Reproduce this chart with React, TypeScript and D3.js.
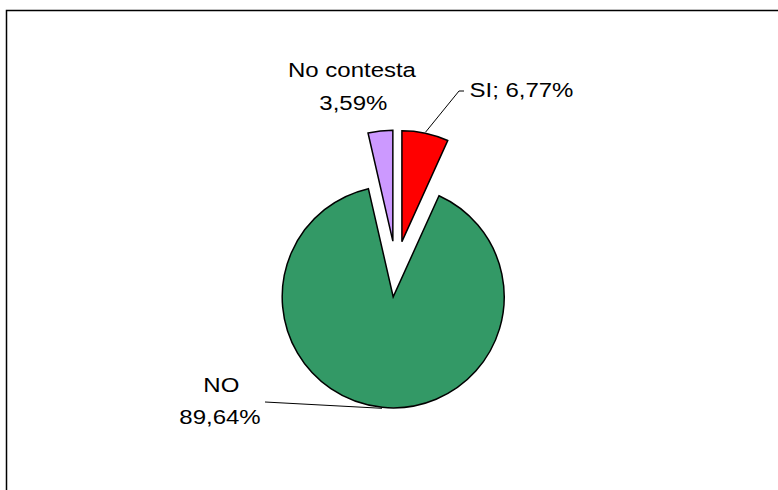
import React from "react";
import * as d3 from "d3";

// ---- data ----
const categories = ["SI", "NO", "No contesta"];
const values = [6.77, 89.64, 3.59];
const valueLabels = ["6,77%", "89,64%", "3,59%"];
const colors = ["#FF0000", "#339966", "#CC99FF"];

// ---- layout ----
const W = 778;
const H = 490;
const CX = 396;
const CY = 269;
const R = 111;
const EXPLODE = 28;
const FONT = "Arial, 'Liberation Sans', sans-serif";
const FS = 20.5;
const XSCALE = 1.17;

export default function App() {
  const pie = d3
    .pie<number>()
    .sort(null)
    .value((d) => d)
    .startAngle(0)
    .endAngle(2 * Math.PI);
  const arcs = pie(values);
  const arcGen = d3.arc<d3.PieArcDatum<number>>().innerRadius(0).outerRadius(R);

  const centers = arcs.map((a) => {
    const mid = (a.startAngle + a.endAngle) / 2;
    return {
      x: CX + EXPLODE * Math.sin(mid),
      y: CY - EXPLODE * Math.cos(mid),
      mid,
    };
  });

  const edgePoint = (i: number, extra = 0) => {
    const c = centers[i];
    return {
      x: c.x + (R + extra) * Math.sin(c.mid),
      y: c.y - (R + extra) * Math.cos(c.mid),
    };
  };

  const siStart = edgePoint(0, 1);
  const noEnd = edgePoint(1, 1);

  const Txt = (props: { x: number; y: number; anchor: string; children: React.ReactNode }) => (
    <text
      transform={`translate(${props.x},${props.y}) scale(${XSCALE},1)`}
      textAnchor={props.anchor}
      fontFamily={FONT}
      fontSize={FS}
      fill="#000"
    >
      {props.children}
    </text>
  );

  return (
    <svg
      width={W}
      height={H}
      style={{ position: "absolute", left: 0, top: 0, background: "#fff" }}
    >
      <rect x={0} y={0} width={W} height={H} fill="#fff" />
      <rect
        x={6.5}
        y={10.5}
        width={W + 20}
        height={H + 20}
        fill="none"
        stroke="#000"
        strokeWidth={1.5}
      />
      {arcs.map((a, i) => (
        <path
          key={categories[i]}
          d={arcGen(a) || ""}
          transform={`translate(${centers[i].x},${centers[i].y})`}
          fill={colors[i]}
          stroke="#000"
          strokeWidth={1.5}
          strokeLinejoin="miter"
        />
      ))}

      {/* leader lines */}
      <polyline
        points={`${siStart.x},${siStart.y} 459,91 464,91`}
        fill="none"
        stroke="#000"
        strokeWidth={1}
      />
      <polyline
        points={`265,402 ${noEnd.x},${noEnd.y}`}
        fill="none"
        stroke="#000"
        strokeWidth={1}
      />

      {/* labels */}
      <Txt x={352} y={77.3} anchor="middle">{categories[2]}</Txt>
      <Txt x={353.3} y={110} anchor="middle">{valueLabels[2]}</Txt>
      <Txt x={469.5} y={96.7} anchor="start">{`${categories[0]}; ${valueLabels[0]}`}</Txt>
      <Txt x={221.3} y={391.7} anchor="middle">{categories[1]}</Txt>
      <Txt x={220} y={424} anchor="middle">{valueLabels[1]}</Txt>
    </svg>
  );
}
